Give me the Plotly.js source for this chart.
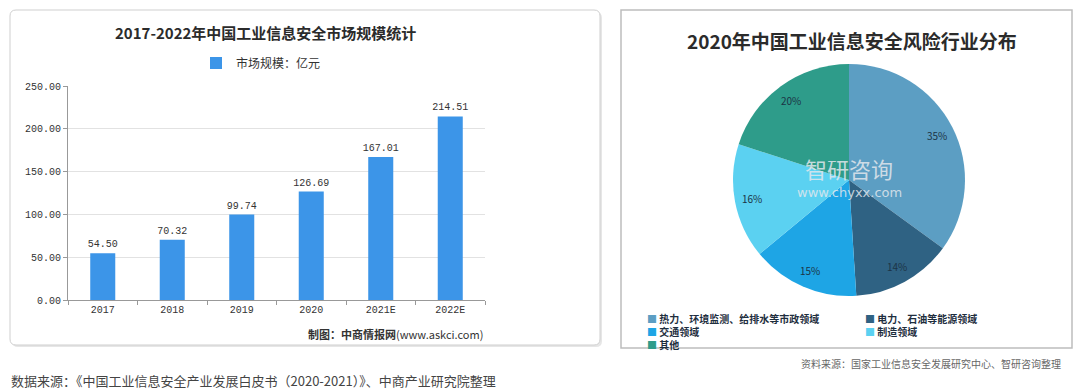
<!DOCTYPE html>
<html>
<head>
<meta charset="utf-8">
<script src="https://cdn.plot.ly/plotly-3.0.1.min.js"></script>
<style>html,body{margin:0;padding:0;background:#fff;}#chart{width:1080px;height:392px;}</style>
</head>
<body>
<div id="chart"></div>
<script>
// ---- data ----
const years = ['2017', '2018', '2019', '2020', '2021E', '2022E'];
const marketSize = [54.50, 70.32, 99.74, 126.69, 167.01, 214.51];
const barSeriesName = '市场规模：亿元';

const sectors = ['热力、环境监测、给排水等市政领域', '电力、石油等能源领域', '交通领域', '制造领域', '其他'];
const sectorShare = [35, 14, 15, 16, 20];
const sectorColors = ['#5c9ec3', '#2f6283', '#1ea5e5', '#5bd1f1', '#2e9c8a'];

const leftTitle = '2017-2022年中国工业信息安全市场规模统计';
const rightTitle = '2020年中国工业信息安全风险行业分布';
const leftCredit = '<b>制图：中商情报网</b>(www.askci.com)';
const leftSource = '数据来源：《中国工业信息安全产业发展白皮书（2020-2021）》、中商产业研究院整理';
const rightSource = '资料来源：国家工业信息安全发展研究中心、智研咨询整理';

// ---- helpers (pixel -> paper) ----
const W = 1080, H = 392;
const px = x => x / W;
const py = y => (H - y) / H;
const CJK = '"Noto Sans CJK SC", "Noto Sans", sans-serif';
const MONO = '"Liberation Mono", "Noto Sans CJK SC", monospace';

function roundRect(x0, y0, x1, y1, r) {
  return `M ${px(x0 + r)},${py(y0)} L ${px(x1 - r)},${py(y0)} Q ${px(x1)},${py(y0)} ${px(x1)},${py(y0 + r)} ` +
         `L ${px(x1)},${py(y1 - r)} Q ${px(x1)},${py(y1)} ${px(x1 - r)},${py(y1)} L ${px(x0 + r)},${py(y1)} ` +
         `Q ${px(x0)},${py(y1)} ${px(x0)},${py(y1 - r)} L ${px(x0)},${py(y0 + r)} Q ${px(x0)},${py(y0)} ${px(x0 + r)},${py(y0)} Z`;
}

function note(x, y, text, font, xanchor) {
  return {xref: 'paper', yref: 'paper', x: px(x), y: py(y), text: text, showarrow: false,
          xanchor: xanchor || 'center', yanchor: 'middle', borderpad: 0, font: font};
}

const barTrace = {
  type: 'bar',
  x: years,
  y: marketSize,
  name: barSeriesName,
  marker: {color: '#3c95e8'},
  width: 0.36,
  text: marketSize.map(v => v.toFixed(2)),
  textposition: 'outside',
  constraintext: 'none',
  cliponaxis: false,
  textfont: {family: MONO, size: 10, color: '#333'},
  xaxis: 'x', yaxis: 'y',
  legend: 'legend',
  hoverinfo: 'x+y'
};

const pieTrace = {
  type: 'pie',
  labels: sectors,
  values: sectorShare,
  sort: false,
  direction: 'clockwise',
  rotation: 0,
  marker: {colors: sectorColors, line: {width: 0}},
  textinfo: 'none',
  showlegend: false,
  domain: {x: [px(733), px(965)], y: [py(297), py(63)]},
  hoverinfo: 'label+percent'
};

const annotations = [];

// watermark on the pie (drawn first, under the labels)
annotations.push(
  note(849, 168, '智研咨询', {family: CJK, size: 22, color: 'rgba(226,231,237,0.85)'}),
  note(849, 192, 'www.chyxx.com', {family: '"DejaVu Sans", sans-serif', size: 13, color: 'rgba(226,231,237,0.85)'})
);

// percentage labels positioned from the data
const total = sectorShare.reduce((a, b) => a + b, 0);
const pcx = 849, pcy = 180, pr = 116 * 0.85;
let cum = 0;
sectorShare.forEach((v) => {
  const mid = (cum + v / 2) / total * 2 * Math.PI;
  cum += v;
  annotations.push(note(pcx + pr * Math.sin(mid), pcy - pr * Math.cos(mid),
    Math.round(v / total * 100) + '%', {family: CJK, size: 10, color: '#1c3446'}));
});

// pie legend (two columns)
const legPos = [[646, 318], [864, 318], [646, 331], [864, 331], [646, 344]];
sectors.forEach((s, i) => {
  annotations.push(note(legPos[i][0], legPos[i][1],
    `<span style="color:${sectorColors[i]}">■</span> ${s}`,
    {family: CJK, size: 10, color: '#1e2e3e', weight: 'bold'}, 'left'));
});

// titles and notes
annotations.push(
  note(265, 33, leftTitle, {family: CJK, size: 15, color: '#2b2b2b', weight: 'bold'}),
  note(852, 40, rightTitle, {family: CJK, size: 19, color: '#2b2b2b', weight: 'bold'}),
  note(484, 334, leftCredit, {family: CJK, size: 11, color: '#333'}, 'right'),
  note(10, 380, leftSource, {family: CJK, size: 13, color: '#444'}, 'left'),
  note(1062, 363, rightSource, {family: CJK, size: 10, color: '#666'}, 'right')
);

const shapes = [
  {type: 'path', xref: 'paper', yref: 'paper', path: roundRect(12, 12, 602, 347, 6),
   line: {width: 0}, fillcolor: '#e6e6e6', layer: 'below'},
  {type: 'path', xref: 'paper', yref: 'paper', path: roundRect(10, 10, 600, 345, 6),
   line: {width: 1, color: '#cfcfcf'}, fillcolor: '#ffffff', layer: 'below'},
  {type: 'rect', xref: 'paper', yref: 'paper', x0: px(621), x1: px(1072), y0: py(348), y1: py(10),
   line: {width: 1.5, color: '#bdbdbd'}, fillcolor: 'rgba(0,0,0,0)', layer: 'below'}
];

const layout = {
  width: W, height: H,
  margin: {l: 0, r: 0, t: 0, b: 0},
  paper_bgcolor: '#ffffff',
  plot_bgcolor: 'rgba(0,0,0,0)',
  font: {family: CJK, color: '#333'},
  xaxis: {
    domain: [px(68), px(485)],
    type: 'category',
    tickson: 'boundaries',
    ticks: 'outside', ticklen: 4, tickcolor: '#999',
    showline: true, linecolor: '#999', linewidth: 1,
    showgrid: false,
    tickfont: {family: MONO, size: 10, color: '#333'},
    anchor: 'y'
  },
  yaxis: {
    domain: [py(300), py(86)],
    range: [0, 250],
    dtick: 50,
    tickformat: '.2f',
    ticks: 'outside', ticklen: 4, tickcolor: '#999',
    showline: true, linecolor: '#999', linewidth: 1,
    gridcolor: '#e2e2e2', gridwidth: 1,
    zeroline: false,
    tickfont: {family: MONO, size: 10, color: '#333'},
    anchor: 'x'
  },
  showlegend: true,
  legend: {
    x: px(261), y: py(63), xanchor: 'center', yanchor: 'middle',
    orientation: 'h',
    font: {family: CJK, size: 12, color: '#333'},
    bgcolor: 'rgba(0,0,0,0)',
    itemwidth: 30
  },
  shapes: shapes,
  annotations: annotations
};

Plotly.newPlot('chart', [barTrace, pieTrace], layout, {displayModeBar: false, staticPlot: true});
</script>
</body>
</html>
